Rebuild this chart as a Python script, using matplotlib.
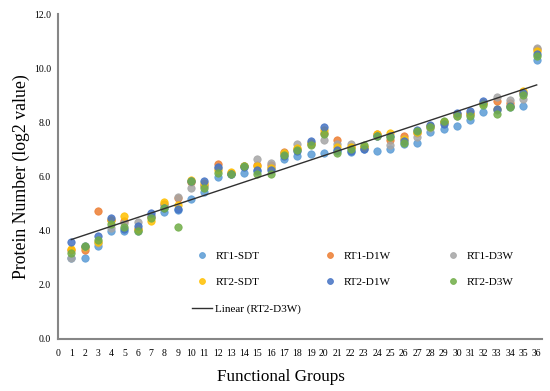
import numpy as np
import matplotlib
matplotlib.use('Agg')
import matplotlib.pyplot as plt
from matplotlib.lines import Line2D

plt.rcParams['font.family'] = ['Liberation Serif', 'DejaVu Serif']

groups = np.arange(1, 37)

rt1_sdt = [3.00, 3.00, 3.43, 3.98, 3.98, 4.00, 4.55, 4.70, 4.75, 5.18, 5.44, 5.97,
           6.08, 6.12, 6.20, 6.30, 6.66, 6.75, 6.84, 6.88, 6.95, 6.89, 7.00, 6.96,
           7.00, 7.20, 7.22, 7.63, 7.77, 7.86, 8.10, 8.39, 8.45, 8.55, 8.60, 10.30]
rt1_d1w = [3.27, 3.28, 4.74, 4.38, 4.35, 4.07, 4.50, 4.98, 5.22, 5.80, 5.70, 6.48,
           6.12, 6.40, 6.42, 6.41, 6.91, 7.00, 7.20, 7.60, 7.33, 7.10, 7.10, 7.58,
           7.35, 7.50, 7.60, 7.85, 8.00, 8.30, 8.30, 8.70, 8.77, 8.70, 9.10, 10.70]
rt1_d3w = [2.98, 3.40, 3.55, 4.10, 4.30, 4.33, 4.55, 4.95, 5.23, 5.58, 5.65, 6.30,
           6.10, 6.40, 6.64, 6.51, 6.85, 7.20, 7.25, 7.33, 7.20, 7.20, 7.10, 7.50,
           7.18, 7.38, 7.45, 7.80, 8.00, 8.25, 8.30, 8.70, 8.94, 8.82, 8.88, 10.73]
rt2_sdt = [3.33, 3.40, 3.60, 4.38, 4.54, 4.05, 4.37, 5.07, 4.96, 5.86, 5.75, 6.25,
           6.17, 6.38, 6.38, 6.30, 6.85, 7.05, 7.25, 7.70, 7.10, 7.10, 7.10, 7.57,
           7.60, 7.40, 7.65, 7.85, 8.00, 8.30, 8.35, 8.70, 8.48, 8.60, 9.16, 10.64]
rt2_d1w = [3.57, 3.45, 3.81, 4.48, 4.05, 4.17, 4.67, 4.85, 4.80, 5.85, 5.83, 6.36,
           6.10, 6.35, 6.24, 6.24, 6.75, 6.95, 7.32, 7.82, 6.97, 6.95, 7.00, 7.50,
           7.50, 7.30, 7.70, 7.90, 7.93, 8.33, 8.41, 8.77, 8.50, 8.60, 9.10, 10.54]
rt2_d3w = [3.16, 3.44, 3.67, 4.25, 4.15, 3.98, 4.45, 4.82, 4.15, 5.85, 5.58, 6.14,
           6.08, 6.37, 6.11, 6.09, 6.79, 6.98, 7.17, 7.56, 6.88, 7.02, 7.17, 7.49,
           7.47, 7.22, 7.68, 7.81, 8.05, 8.23, 8.24, 8.63, 8.30, 8.55, 9.00, 10.44]

series = [('RT1-SDT', rt1_sdt, '#5B9BD5'),
          ('RT1-D1W', rt1_d1w, '#ED7D31'),
          ('RT1-D3W', rt1_d3w, '#A5A5A5'),
          ('RT2-SDT', rt2_sdt, '#FFC000'),
          ('RT2-D1W', rt2_d1w, '#4472C4'),
          ('RT2-D3W', rt2_d3w, '#70AD47')]

fig = plt.figure(figsize=(5.5, 3.91), dpi=100)
ax = fig.add_axes([58/550, 1-339/391, (542-58)/550, (339-14)/391])

handles = {}
for name, vals, col in series:
    h, = ax.plot(groups, vals, 'o', ms=5.3, color=col, mec=col, mew=0.6, alpha=0.85, label=name)
    handles[name] = h

# linear trendline of RT2-D3W
k, b = np.polyfit(groups, rt2_d3w, 1)
xx = np.array([groups[0], groups[-1]])
trend, = ax.plot(xx, k*xx + b, color='#303030', lw=1.0)

ax.set_xlim(0, 36.4)
ax.set_ylim(0, 12)
ax.set_xticks(np.arange(0, 37))
ax.set_yticks(np.arange(0, 13, 2))
ax.set_yticklabels(['%.1f' % v for v in np.arange(0, 13, 2)])
ax.tick_params(axis='both', length=0, labelsize=7)
ax.tick_params(axis='y', pad=5)
ax.tick_params(axis='x', pad=7)
for s in ['top', 'right']:
    ax.spines[s].set_visible(False)
for s in ['left', 'bottom']:
    ax.spines[s].set_color('#868686')
    ax.spines[s].set_linewidth(1.5)

ax.set_xlabel('Functional Groups', fontsize=12.3)
ax.set_ylabel('Protein Number (log2 value)', fontsize=12.8)
ax.xaxis.set_label_coords(0.461, -0.092)
ax.yaxis.set_label_coords(-0.058, 0.5)

# legend, three columns placed separately like Excel
trend_h = Line2D([], [], color='#303030', lw=1.0)
cols = [([handles['RT1-SDT'], handles['RT2-SDT'], trend_h], ['RT1-SDT', 'RT2-SDT', 'Linear (RT2-D3W)'], 192),
        ([handles['RT1-D1W'], handles['RT2-D1W']], ['RT1-D1W', 'RT2-D1W'], 320),
        ([handles['RT1-D3W'], handles['RT2-D3W']], ['RT1-D3W', 'RT2-D3W'], 443)]
for hs, labs, xpix in cols:
    leg = fig.legend(hs, labs, loc='upper left', bbox_to_anchor=(xpix/550, 1-251/391),
                     frameon=False, fontsize=8, handlelength=1.8, handletextpad=0.3,
                     labelspacing=1.5, borderpad=0, borderaxespad=0, markerscale=0.8)

fig.savefig('out.png', dpi=100)
